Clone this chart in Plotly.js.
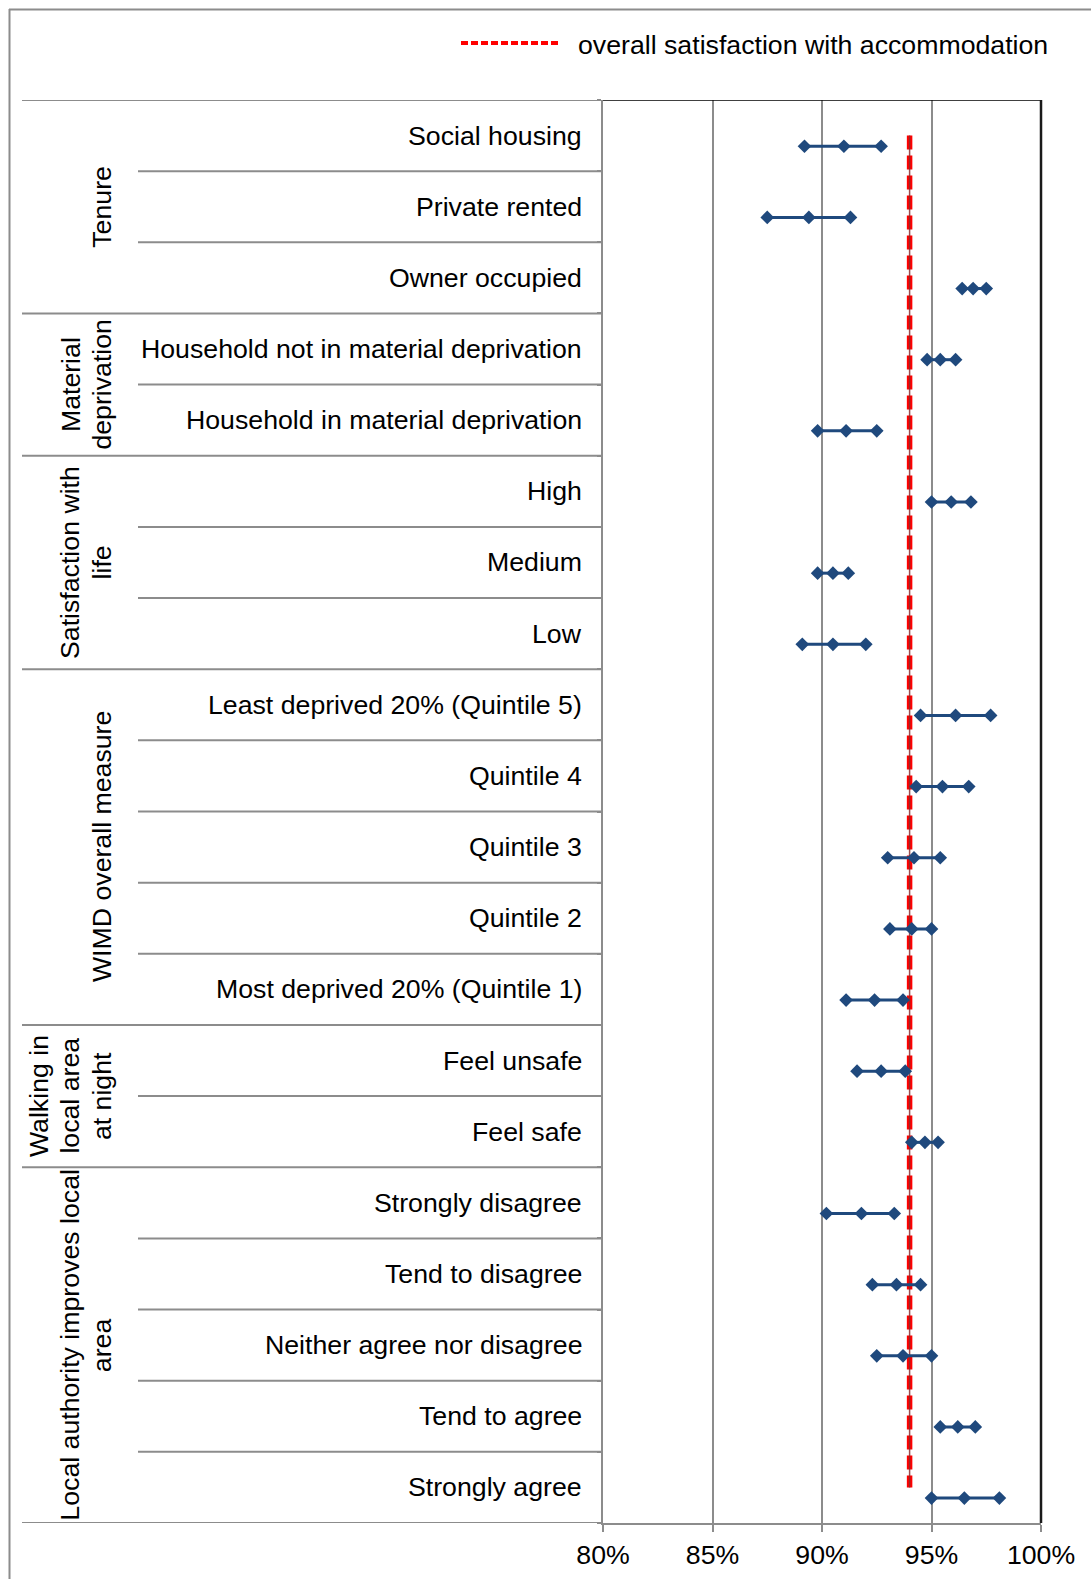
<!DOCTYPE html>
<html>
<head>
<meta charset="utf-8">
<script src="https://cdn.plot.ly/plotly-3.0.1.min.js"></script>
<style>
  html, body { margin: 0; padding: 0; background: #ffffff; }
  #chart { width: 1091px; height: 1579px; }
</style>
</head>
<body>
<div id="chart"></div>
<script>
// ---------------- DATA ----------------
const rowLabels = [
  "Social housing", "Private rented", "Owner occupied",
  "Household not in material deprivation", "Household in material deprivation",
  "High", "Medium", "Low",
  "Least deprived 20% (Quintile 5)", "Quintile 4", "Quintile 3", "Quintile 2", "Most deprived 20% (Quintile 1)",
  "Feel unsafe", "Feel safe",
  "Strongly disagree", "Tend to disagree", "Neither agree nor disagree", "Tend to agree", "Strongly agree"
];
const groupLabels = [
  "Tenure",
  "Material<br>deprivation",
  "Satisfaction with<br>life",
  "WIMD overall measure",
  "Walking in<br>local area<br>at night",
  "Local authority improves local<br>area"
];
const groupSizes = [3, 2, 3, 5, 2, 5];

// satisfaction (proportion): lower CI, estimate, upper CI
const lowerCI  = [0.892, 0.875, 0.964, 0.948, 0.898, 0.950, 0.898, 0.891, 0.945, 0.943, 0.930, 0.931, 0.911, 0.916, 0.941, 0.902, 0.923, 0.925, 0.954, 0.950];
const estimate = [0.910, 0.894, 0.969, 0.954, 0.911, 0.959, 0.905, 0.905, 0.961, 0.955, 0.942, 0.941, 0.924, 0.927, 0.947, 0.918, 0.934, 0.937, 0.962, 0.965];
const upperCI  = [0.927, 0.913, 0.975, 0.961, 0.925, 0.968, 0.912, 0.920, 0.977, 0.967, 0.954, 0.950, 0.937, 0.938, 0.953, 0.933, 0.945, 0.950, 0.970, 0.981];
const overallSatisfaction = 0.940;
const legendText = "overall satisfaction with accommodation";
const xTickVals = [0.80, 0.85, 0.90, 0.95, 1.00];
const xTickText = ["80%", "85%", "90%", "95%", "100%"];

// ---------------- LAYOUT GEOMETRY ----------------
const W = 1091, H = 1579;
const PL = 603, PR = 1041, PT = 100, PB = 1523;   // plot area in px
const nRows = rowLabels.length;
const pointOffset = 0.65;                          // marker row position inside band
const FONT = "Liberation Sans, Arial, Helvetica, sans-serif";
const FS = 26.7;
const GRAY = "#8c8c8c";
const BLUE = "#1F497D";

const px2x = px => (px - PL) / (PR - PL);
const px2y = py => (PB - py) / (PB - PT);

// ---------------- TRACES ----------------
const ciX = [], ciY = [];
for (let i = 0; i < nRows; i++) {
  ciX.push(lowerCI[i], estimate[i], upperCI[i], null);
  ciY.push(i + pointOffset, i + pointOffset, i + pointOffset, null);
}
const traces = [
  {
    type: "scatter", mode: "lines", x: [overallSatisfaction, overallSatisfaction], y: [0.5, nRows - 0.5],
    line: { color: "#ff0000", width: 5.5, dash: "14px,6px" }, hoverinfo: "skip", showlegend: false
  },
  {
    type: "scatter", mode: "lines", x: [overallSatisfaction, overallSatisfaction], y: [0.5, nRows - 0.5],
    line: { color: "rgba(140,45,45,0.85)", width: 1.5 }, hoverinfo: "skip", showlegend: false
  },
  {
    type: "scatter", mode: "lines+markers", x: ciX, y: ciY, connectgaps: false,
    line: { color: BLUE, width: 3 },
    marker: { symbol: "diamond", size: 10.5, color: BLUE },
    showlegend: false, cliponaxis: false
  }
];

// ---------------- SHAPES / ANNOTATIONS ----------------
const shapes = [];
const annotations = [];
function hline(x0px, x1px, yData, color, width) {
  shapes.push({ type: "line", xref: "paper", yref: "y", x0: px2x(x0px), x1: px2x(x1px), y0: yData, y1: yData,
                line: { color: color, width: width }, layer: "above" });
}
// outer frame
shapes.push({ type: "line", xref: "paper", yref: "paper", x0: px2x(9), x1: px2x(W + 5), y0: px2y(9.5), y1: px2y(9.5), line: { color: GRAY, width: 2 } });
shapes.push({ type: "line", xref: "paper", yref: "paper", x0: px2x(9.5), x1: px2x(9.5), y0: px2y(9), y1: px2y(H + 5), line: { color: GRAY, width: 2 } });

// table lines + group labels
const groupLastLineX = 102;   // px centre of last text line
const groupLineStep = 31.5;   // px between rotated lines
hline(22, PL, 0, GRAY, 2);
let start = 0;
groupSizes.forEach((n, g) => {
  for (let k = 1; k < n; k++) hline(138, PL, start + k, GRAY, 2);
  start += n;
  hline(22, PL, start, GRAY, 2);
  const lines = groupLabels[g].split("<br>");
  lines.forEach((ln, j) => {
    annotations.push({
      xref: "paper", yref: "y", x: px2x(groupLastLineX - (lines.length - 1 - j) * groupLineStep),
      y: start - n / 2, xanchor: "center", yanchor: "middle",
      text: ln, textangle: -90, showarrow: false,
      font: { family: FONT, size: FS, color: "#000000" }
    });
  });
});
// row labels
rowLabels.forEach((lab, i) => {
  annotations.push({
    xref: "paper", yref: "y", x: px2x(584), y: i + 0.5, xanchor: "right", yanchor: "middle",
    text: lab, showarrow: false, font: { family: FONT, size: FS, color: "#000000" }
  });
});
// plot area top and right borders
shapes.push({ type: "line", xref: "paper", yref: "y", x0: 0, x1: 1, y0: 0, y1: 0, line: { color: "#000000", width: 1.5 }, layer: "above" });
shapes.push({ type: "line", xref: "paper", yref: "y", x0: 1, x1: 1, y0: 0, y1: nRows, line: { color: "#1a1a1a", width: 2.5 }, layer: "above" });

// legend
shapes.push({ type: "line", xref: "paper", yref: "paper", x0: px2x(461), x1: px2x(558), y0: px2y(43), y1: px2y(43),
              line: { color: "#ff0000", width: 4, dash: "7px,3px" } });
annotations.push({ xref: "paper", yref: "paper", x: px2x(576), y: px2y(45), xanchor: "left", yanchor: "middle",
                   text: legendText, showarrow: false, font: { family: FONT, size: FS, color: "#000000" } });

const layout = {
  width: W, height: H,
  margin: { l: PL, r: W - PR, t: PT, b: H - PB, pad: 0 },
  paper_bgcolor: "#ffffff", plot_bgcolor: "#ffffff",
  font: { family: FONT, size: FS, color: "#000000" },
  showlegend: false,
  xaxis: {
    range: [0.80, 1.00], tickvals: xTickVals, ticktext: xTickText,
    showgrid: true, gridcolor: GRAY, gridwidth: 2, zeroline: false,
    showline: true, linecolor: GRAY, linewidth: 2,
    ticks: "outside", ticklen: 7, tickwidth: 2, tickcolor: GRAY,
    tickfont: { family: FONT, size: FS, color: "#000000" }, fixedrange: true
  },
  yaxis: {
    range: [nRows, 0], tickvals: Array.from({ length: nRows + 1 }, (_, k) => k),
    showticklabels: false, showgrid: false, zeroline: false,
    showline: true, linecolor: GRAY, linewidth: 2,
    ticks: "outside", ticklen: 4, tickwidth: 2, tickcolor: GRAY, fixedrange: true
  },
  shapes: shapes,
  annotations: annotations
};

Plotly.newPlot("chart", traces, layout, { displayModeBar: false, staticPlot: true });
</script>
</body>
</html>
